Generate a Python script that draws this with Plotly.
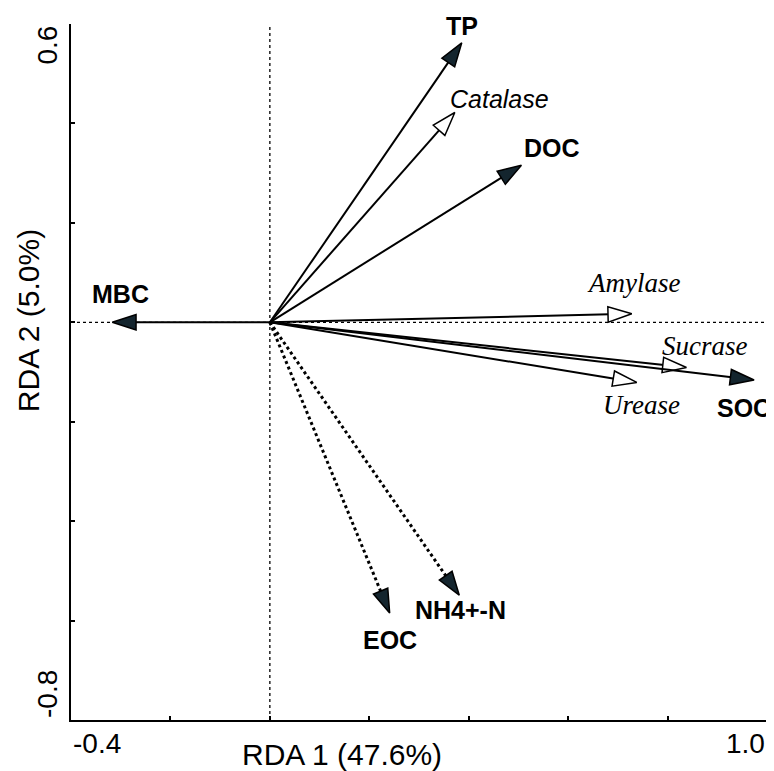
import plotly.graph_objects as go

# ---- data ----
names = ["TP", "Catalase", "DOC", "Amylase", "Sucrase", "SOC", "Urease", "MBC", "EOC", "NH4+-N"]
rda1 = [0.386, 0.372, 0.506, 0.728, 0.838, 0.974, 0.738, -0.317, 0.241, 0.381]
rda2 = [0.562, 0.422, 0.316, 0.017, -0.091, -0.116, -0.121, 0.0, -0.585, -0.549]
kind = ["env", "enzyme", "env", "enzyme", "enzyme", "env", "enzyme", "env", "envdot", "envdot"]

x_ticks = [-0.4, -0.2, 0.0, 0.2, 0.4, 0.6, 0.8, 1.0]
y_ticks = [-0.8, -0.6, -0.4, -0.2, 0.0, 0.2, 0.4, 0.6]
x_range = [-0.4, 1.0]
y_range = [-0.8, 0.6]
x_title = "RDA 1 (47.6%)"
y_title = "RDA 2 (5.0%)"

# label offsets in pixels (dx right, dy down) relative to arrow tips
label_off = {
    "TP": (0, -17), "Catalase": (45, -13), "DOC": (31, -17), "Amylase": (2, -31),
    "Sucrase": (18, -22), "SOC": (-10, 28), "Urease": (5, 23), "MBC": (8, -28),
    "EOC": (0, 27), "NH4+-N": (1, 15),
}

SANS = "Liberation Sans, Arial, sans-serif"
SERIF = "Liberation Serif, Times New Roman, serif"
HEAD = "#14252e"

fig = go.Figure()

for n, x, y, k in zip(names, rda1, rda2, kind):
    if k == "enzyme":
        fill = "white"
        dash = "solid"
    else:
        fill = HEAD
        dash = "dot" if k == "envdot" else "solid"
    fig.add_trace(go.Scatter(
        x=[0, x], y=[0, y], mode="lines+markers",
        line=dict(color="black", width=3 if k == "envdot" else 2, dash=dash),
        marker=dict(symbol="arrow", angleref="previous", size=[0, 25], color=fill,
                    opacity=1, line=dict(color="black", width=1.5)),
        showlegend=False, hoverinfo="skip",
    ))

annotations = []
for n, x, y, k in zip(names, rda1, rda2, kind):
    dx, dy = label_off[n]
    if k == "enzyme":
        if n == "Catalase":
            font = dict(family=SANS, size=25, color="black", style="italic")
        else:
            font = dict(family=SERIF, size=27, color="black", style="italic")
    else:
        font = dict(family=SANS, size=25, color="black", weight="bold")
    annotations.append(dict(x=x, y=y, xref="x", yref="y", text=n, showarrow=False,
                            xanchor="center", yanchor="middle", xshift=dx, yshift=-dy,
                            font=font))

tickfont = dict(family=SANS, size=28, color="black")
annotations += [
    dict(x=x_ticks[0], y=0, xref="x", yref="paper", text="-0.4", showarrow=False,
         xanchor="left", yanchor="middle", yshift=-23, font=tickfont),
    dict(x=x_ticks[-1], y=0, xref="x", yref="paper", text="1.0", showarrow=False,
         xanchor="right", yanchor="middle", yshift=-23, font=tickfont),
    dict(x=0, y=y_ticks[-1], xref="paper", yref="y", text="0.6", showarrow=False,
         xanchor="center", yanchor="top", xshift=-24, textangle=-90, font=tickfont),
    dict(x=0, y=y_ticks[0], xref="paper", yref="y", text="-0.8", showarrow=False,
         xanchor="center", yanchor="bottom", xshift=-24, textangle=-90, font=tickfont),
    dict(x=0.39, y=0, xref="paper", yref="paper", text=x_title, showarrow=False,
         xanchor="center", yanchor="middle", yshift=-34,
         font=dict(family=SANS, size=30, color="black")),
    dict(x=0, y=0.573, xref="paper", yref="paper", text=y_title, showarrow=False,
         xanchor="center", yanchor="middle", xshift=-43, textangle=-90,
         font=dict(family=SANS, size=30, color="black")),
]

shapes = [
    dict(type="line", xref="x", yref="y", x0=0, x1=0, y0=y_range[0], y1=y_range[1],
         line=dict(color="black", width=1.3, dash="dot"), layer="below"),
    dict(type="line", xref="x", yref="y", x0=x_range[0], x1=x_range[1], y0=0, y1=0,
         line=dict(color="black", width=1.3, dash="dot"), layer="below"),
]

axis_common = dict(showgrid=False, zeroline=False, showline=True, linecolor="black",
                   linewidth=2, ticks="inside", ticklen=4, tickwidth=1.5, tickcolor="black",
                   showticklabels=False, mirror=False, fixedrange=True)

# the page body adds an 8px offset, so the figure is sized to fill the rest of the window
fig.update_layout(
    width=766, height=763,
    margin=dict(l=63, r=7, t=16, b=51),
    paper_bgcolor="white", plot_bgcolor="white",
    xaxis=dict(range=x_range, tickvals=x_ticks, **axis_common),
    yaxis=dict(range=y_range, tickvals=y_ticks, **axis_common),
    annotations=annotations, shapes=shapes,
)

fig.write_html("out.html")
